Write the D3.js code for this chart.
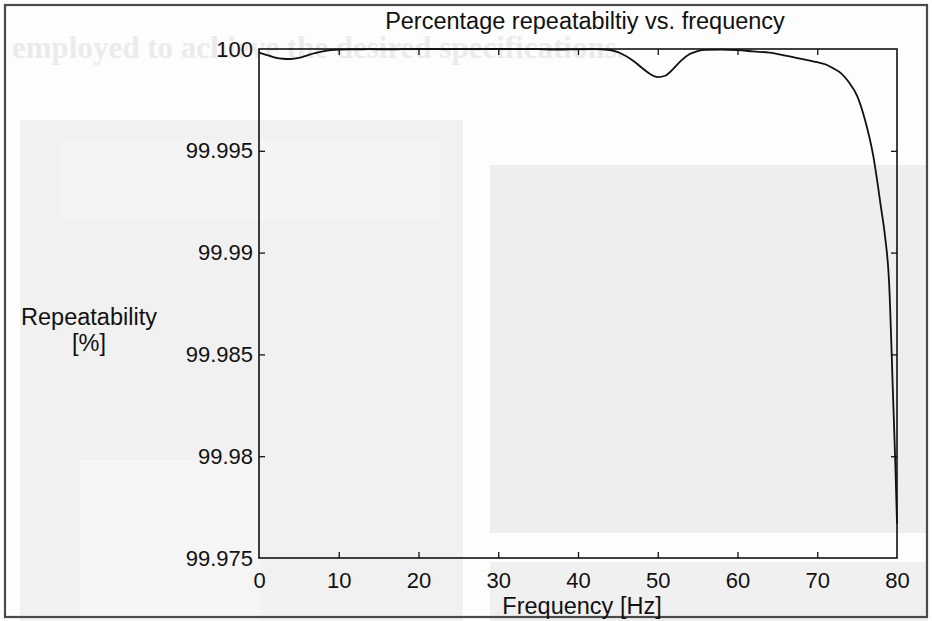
<!DOCTYPE html>
<html>
<head>
<meta charset="utf-8">
<script src="https://cdn.jsdelivr.net/npm/d3@7"></script>
<style>
  html, body { margin: 0; padding: 0; background: #ffffff; }
  svg { display: block; font-family: "Liberation Sans", Arial, Helvetica, sans-serif; }
</style>
</head>
<body>
<svg id="chart" width="932" height="621"></svg>
<script>
// Measured repeatability over the excitation frequency sweep
const frequencyHz = [0, 1, 2, 3, 4, 5, 6, 7, 8, 9, 10, 12, 14, 16, 18, 20, 25, 30, 35, 37, 39, 42,
  44, 45, 46, 47, 48, 49, 50, 51, 52, 53, 54, 55, 56, 58, 60, 62, 64, 66, 68, 70, 71, 72, 73, 74,
  75, 76, 77, 78, 78.5, 79, 79.5, 79.8, 80];
const repeatabilityPct = [99.99982, 99.99970, 99.99958, 99.99952, 99.99951, 99.99956, 99.99968,
  99.99980, 99.99988, 99.99994, 99.99997, 99.99998, 99.99999, 99.99998, 99.99999, 100.00000,
  99.99999, 100.00000, 99.99999, 99.99997, 99.99998, 99.99999,
  99.99995, 99.99985, 99.99966, 99.99940, 99.99908, 99.99878, 99.99862, 99.99870, 99.99905,
  99.99945, 99.99975, 99.99990, 99.99996, 99.99997, 99.99994, 99.99988, 99.99982, 99.99968,
  99.99952, 99.99935, 99.99925, 99.99905, 99.99880, 99.99835, 99.99770, 99.99650, 99.99480,
  99.99220, 99.99080, 99.98860, 99.98300, 99.97950, 99.97670];

const xTicks = [0, 10, 20, 30, 40, 50, 60, 70, 80];
const yTicks = [99.975, 99.98, 99.985, 99.99, 99.995, 100];
const yTickLabels = ["99.975", "99.98", "99.985", "99.99", "99.995", "100"];

const titleText = "Percentage repeatabiltiy vs. frequency";
const xLabelText = "Frequency [Hz]";
const yLabelLines = ["Repeatability", "[%]"];
const pageText = "employed to achieve the desired specifications.";

const W = 932, H = 621;
const plot = { left: 259, right: 897, top: 49, bottom: 558 };

const svg = d3.select("#chart");

// Paper background with faint printed figures showing through
const paper = svg.append("g");
paper.append("rect").attr("x", 0).attr("y", 0).attr("width", W).attr("height", H).attr("fill", "#fdfdfd");
paper.append("rect").attr("x", 20).attr("y", 120).attr("width", 443).attr("height", 501).attr("fill", "#f1f1f1");
paper.append("rect").attr("x", 60).attr("y", 140).attr("width", 380).attr("height", 80).attr("fill", "#f4f4f4");
paper.append("rect").attr("x", 80).attr("y", 460).attr("width", 180).attr("height", 161).attr("fill", "#f5f5f5");
paper.append("rect").attr("x", 490).attr("y", 165).attr("width", 438).attr("height", 368).attr("fill", "#eeeeee");
paper.append("rect").attr("x", 490).attr("y", 562).attr("width", 438).attr("height", 59).attr("fill", "#f0f0f0");
paper.append("text").attr("x", 12).attr("y", 58)
  .attr("font-family", "Liberation Serif, serif").attr("font-weight", "bold")
  .attr("font-size", 31).attr("fill", "#ebebeb").text(pageText);

// Outer frame
svg.append("rect").attr("x", 5).attr("y", 5).attr("width", 922).attr("height", 612)
  .attr("fill", "none").attr("stroke", "#4a4a4a").attr("stroke-width", 2.2);

const x = d3.scaleLinear().domain([0, 80]).range([plot.left, plot.right]);
const y = d3.scaleLinear().domain([99.975, 100]).range([plot.bottom, plot.top]);

const tickFont = 22;
const labelFont = 23.5;
const tickLen = 6;

function styleAxis(g, showLabels) {
  g.select(".domain").remove();
  g.selectAll(".tick line").attr("stroke", "#111").attr("stroke-width", 1.3);
  g.selectAll(".tick text").attr("fill", "#111").attr("font-size", tickFont)
    .attr("font-family", "Liberation Sans, Arial, sans-serif");
  if (!showLabels) g.selectAll(".tick text").remove();
}

const xAxisBottom = d3.axisBottom(x).tickValues(xTicks).tickSizeInner(-tickLen).tickSizeOuter(0)
  .tickPadding(14).tickFormat(d3.format("d"));
svg.append("g").attr("transform", `translate(0,${plot.bottom})`).call(xAxisBottom)
  .call(g => styleAxis(g, true))
  .call(g => g.selectAll(".tick").filter(d => d === 0 || d === 80).select("line").remove());

const xAxisTop = d3.axisTop(x).tickValues(xTicks.filter(d => d > 0 && d < 80))
  .tickSizeInner(-tickLen).tickSizeOuter(0);
svg.append("g").attr("transform", `translate(0,${plot.top})`).call(xAxisTop)
  .call(g => styleAxis(g, false));

const yAxisLeft = d3.axisLeft(y).tickValues(yTicks).tickSizeInner(-tickLen).tickSizeOuter(0)
  .tickPadding(6).tickFormat((d, i) => yTickLabels[i]);
svg.append("g").attr("transform", `translate(${plot.left},0)`).call(yAxisLeft)
  .call(g => styleAxis(g, true))
  .call(g => g.selectAll(".tick").filter(d => d === 99.975 || d === 100).select("line").remove());

const yAxisRight = d3.axisRight(y).tickValues(yTicks.filter(d => d > 99.975 && d < 100))
  .tickSizeInner(-tickLen).tickSizeOuter(0);
svg.append("g").attr("transform", `translate(${plot.right},0)`).call(yAxisRight)
  .call(g => styleAxis(g, false));

// Axes box
svg.append("rect").attr("x", plot.left).attr("y", plot.top)
  .attr("width", plot.right - plot.left).attr("height", plot.bottom - plot.top)
  .attr("fill", "none").attr("stroke", "#111").attr("stroke-width", 1.6);

// Repeatability curve
const data = frequencyHz.map((f, i) => ({ f, v: repeatabilityPct[i] }));
const line = d3.line().x(d => x(d.f)).y(d => y(d.v)).curve(d3.curveMonotoneX);
svg.append("path").datum(data).attr("d", line)
  .attr("fill", "none").attr("stroke", "#111").attr("stroke-width", 1.8)
  .attr("stroke-linejoin", "round");

// Title and axis labels
svg.append("text").attr("x", 585).attr("y", 29)
  .attr("text-anchor", "middle").attr("font-size", labelFont).attr("fill", "#111").text(titleText);

svg.append("text").attr("x", 582).attr("y", 614)
  .attr("text-anchor", "middle").attr("font-size", labelFont).attr("fill", "#111").text(xLabelText);

const yl = svg.append("text").attr("text-anchor", "middle").attr("font-size", labelFont).attr("fill", "#111");
yLabelLines.forEach((t, i) => {
  yl.append("tspan").attr("x", 89).attr("y", 325 + i * 26).text(t);
});
</script>
</body>
</html>
